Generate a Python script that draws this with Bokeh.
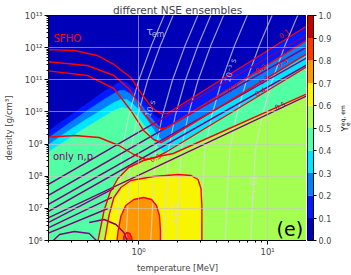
import numpy as np
from bokeh.plotting import figure
from bokeh.layouts import row
from bokeh.models import ColumnDataSource, FixedTicker, Label, Title
from bokeh.core.properties import value
from bokeh.embed import file_html
from bokeh.resources import INLINE

FONT = "DejaVu Sans"

# ---------------- axes ----------------
T_RANGE = [0.2, 20.0]
RHO_RANGE = [1e6, 1e13]
x_ticks = [1.0, 10.0]
x_tick_labels = ["10⁰", "10¹"]
x_minor_ticks = [0.2, 0.3, 0.4, 0.5, 0.6, 0.7, 0.8, 0.9, 2, 3, 4, 5, 6, 7, 8, 9, 20]
y_ticks = [1e6, 1e7, 1e8, 1e9, 1e10, 1e11, 1e12, 1e13]
y_tick_labels = ["10⁶", "10⁷", "10⁸", "10⁹", "10¹⁰", "10¹¹", "10¹²", "10¹³"]
y_minor_ticks = [m * 10.0 ** k for k in range(6, 13) for m in range(2, 10)]

# ---------------- colour levels ----------------
levels = [0.0, 0.1, 0.2, 0.3, 0.4, 0.5, 0.6, 0.7, 0.8, 0.9, 1.0]
level_labels = ["0.0", "0.1", "0.2", "0.3", "0.4", "0.5", "0.6", "0.7", "0.8", "0.9", "1.0"]
level_colors = ["#0000b9", "#001aff", "#0080ff", "#00e5ff", "#52ffa5",
                "#a5ff52", "#f7f500", "#ff9700", "#ff3800", "#c50000"]

# ------- filled regions: boundary of region Y_e >= level, in (log10 T[MeV], log10 rho[g/cm^3]) -------
base_logT = [-0.75, 1.35, 1.35, -0.75]
base_logrho = [5.5, 5.5, 13.5, 13.5]

ge01_logT = [-0.728, -0.575, -0.421, -0.268, -0.192, -0.153, -0.123, -0.092, -0.038, 0.023, 0.077, 0.123, 0.161, 0.207, 1.35, 1.35, -0.75]
ge01_logrho = [9.329, 9.765, 10.200, 10.636, 10.823, 10.916, 10.947, 10.916, 10.729, 10.449, 10.169, 9.889, 9.796, 9.889, 12.79, 5.5, 5.5]

ge02_logT = [-0.728, -0.575, -0.421, -0.268, -0.192, -0.146, -0.107, -0.069, 0.0, 0.054, 0.115, 0.169, 0.215, 1.35, 1.35, -0.75]
ge02_logrho = [9.111, 9.547, 9.983, 10.387, 10.574, 10.667, 10.667, 10.574, 10.325, 10.045, 9.734, 9.485, 9.511, 12.35, 5.5, 5.5]

ge03_logT = [-0.728, -0.575, -0.421, -0.268, -0.192, -0.138, -0.092, -0.046, 0.008, 0.069, 0.130, 0.184, 0.230, 1.35, 1.35, -0.75]
ge03_logrho = [8.894, 9.329, 9.734, 10.107, 10.294, 10.387, 10.387, 10.263, 10.045, 9.734, 9.360, 9.080, 9.161, 11.92, 5.5, 5.5]

ge04_logT = [-0.728, -0.575, -0.421, -0.268, -0.192, -0.130, -0.084, -0.038, 0.015, 0.077, 0.138, 0.199, 0.253, 1.35, 1.35, -0.75]
ge04_logrho = [8.676, 9.080, 9.485, 9.858, 10.045, 10.138, 10.107, 9.983, 9.734, 9.391, 8.956, 8.738, 8.862, 11.52, 5.5, 5.5]

ge05_logT = [-0.330, -0.307, -0.268, -0.222, -0.161, -0.077, 0.038, 0.153, 0.268, 1.35, 1.35]
ge05_logrho = [5.689, 6.156, 6.933, 7.493, 7.929, 8.271, 8.489, 8.614, 8.707, 10.646, 5.689]

ge06_logT = [-0.276, -0.253, -0.230, -0.192, -0.138, -0.061, 0.115, 0.307, 0.406, 0.460, 0.483, 0.490, 0.490]
ge06_logrho = [5.689, 6.249, 6.778, 7.338, 7.649, 7.867, 7.991, 8.054, 8.022, 7.898, 7.618, 7.089, 5.689]

ge07_logT = [-0.176, -0.161, -0.138, -0.100, -0.038, 0.038, 0.100, 0.138, 0.161, 0.169, 0.169]
ge07_logrho = [5.689, 6.249, 6.747, 7.089, 7.276, 7.338, 7.276, 7.089, 6.778, 6.311, 5.689]

ge08_logT = [-0.123, -0.115, -0.092, -0.069, -0.054, -0.046]
ge08_logrho = [5.689, 6.124, 6.249, 6.218, 6.093, 5.689]

# ------- SFHO contour lines (red) -------
sfho_01_logT = [-0.728, -0.498, -0.322, -0.192, -0.061, 0.015, 0.077, 0.130, 0.176, 0.222, 1.35]
sfho_01_logrho = [11.943, 11.912, 11.756, 11.476, 11.072, 10.605, 10.263, 10.045, 9.951, 9.951, 12.79]
sfho_02_logT = [-0.728, -0.398, -0.192, -0.077, -0.015, 0.038, 0.092, 0.146, 0.192, 0.238, 1.35]
sfho_02_logrho = [11.569, 11.445, 11.134, 10.729, 10.356, 9.983, 9.703, 9.516, 9.469, 9.555, 12.35]
sfho_03_logT = [-0.728, -0.398, -0.192, -0.061, 0.038, 0.115, 0.176, 0.238, 1.35]
sfho_03_logrho = [11.289, 11.134, 10.729, 10.045, 9.423, 9.142, 9.049, 9.198, 11.92]
sfho_04_logT = [-0.728, -0.498, -0.307, -0.153, -0.038, 0.054, 0.130, 0.207, 1.35]
sfho_04_logrho = [9.205, 9.267, 9.205, 8.956, 8.676, 8.520, 8.582, 8.738, 11.52]

# ------- only n,p contour lines (purple) -------
np_lines_logT = [[-0.728, 1.35], [-0.728, 1.35], [-0.728, 1.35], [-0.728, 1.35], [-0.728, 1.35],
                 [-0.728, -0.192], [-0.728, -0.207], [-0.728, -0.238],
                 [-0.675, -0.613, -0.498, -0.383, -0.315],
                 [-0.383, -0.268, -0.176, -0.115, -0.084]]
np_lines_logrho = [[7.680, 12.50], [7.338, 12.13], [7.058, 11.79], [6.840, 11.57], [6.653, 10.59],
                   [6.498, 7.618], [6.342, 7.338], [6.187, 6.996],
                   [5.95, 6.187, 6.280, 6.218, 5.95],
                   [6.560, 6.653, 6.498, 6.249, 5.94]]

# ------- tau_em iso-lines (light grey) -------
tau_logrho = [13.156, 12.067, 10.978, 9.889, 8.800, 5.844]
tau_lines_logT = [[0.214, 0.099, 0.0, -0.077, -0.131, -0.169],
                  [0.283, 0.168, 0.069, -0.008, -0.062, -0.100],
                  [0.475, 0.360, 0.261, 0.184, 0.130, 0.092],
                  [0.575, 0.460, 0.361, 0.284, 0.230, 0.192],
                  [0.674, 0.559, 0.460, 0.383, 0.329, 0.291],
                  [0.858, 0.743, 0.644, 0.567, 0.513, 0.475],
                  [1.050, 0.935, 0.836, 0.759, 0.705, 0.667],
                  [1.249, 1.134, 1.035, 0.958, 0.904, 0.866]]

# ------- contour labels -------
clabel_text = ["0.1", "0.2", "0.3", "0.3", "0.4", "0.5", "0.2", "0.5"]
clabel_logT = [1.126, 0.943, 1.111, 0.973, 0.943, 1.096, 0.728, 0.130]
clabel_logrho = [12.441, 11.352, 11.538, 11.009, 10.636, 10.200, 10.761, 8.582]
clabel_angle = [0.58, 0.58, 0.58, 0.58, 0.58, 0.44, 0.58, 0.42]
clabel_color = ["red", "red", "red", "purple", "red", "purple", "purple", "red"]

tau_label_text = ["10 s", "10⁻³ s", "0.1 s", "10⁻⁴ s"]
tau_label_logT = [0.092, 0.713, 0.284, 0.881]
tau_label_logrho = [10.107, 11.289, 6.840, 7.649]
tau_label_angle = [1.26, 1.30, -1.5708, -1.5708]

# colour-bar label pieces (position within the label strip, 0..1)
cb_label_text = ["Y", "e", "eq, em"]
cb_label_x = [0.60, 0.78, 0.45]
cb_label_y = [0.496, 0.517, 0.509]

TOP, BOTTOM, H = 15, 35, 275


def lin(a):
    return 10.0 ** np.asarray(a, dtype=float)


p = figure(width=306, height=H, x_axis_type="log", y_axis_type="log",
           x_range=(T_RANGE[0], T_RANGE[1]), y_range=(RHO_RANGE[0], RHO_RANGE[1]),
           output_backend="svg", toolbar_location=None,
           title="different NSE ensembles",
           min_border_left=43, min_border_right=0, min_border_top=TOP, min_border_bottom=BOTTOM)

p.title.text_font = FONT
p.title.text_font_size = "10.5px"
p.title.text_font_style = "normal"
p.title.align = "center"
p.title.standoff = 0
p.outline_line_color = "black"
p.outline_line_width = 1

# filled regions
p.patch(lin(base_logT), lin(base_logrho), fill_color=level_colors[0], line_color=None)
regions = [(ge01_logT, ge01_logrho), (ge02_logT, ge02_logrho), (ge03_logT, ge03_logrho),
           (ge04_logT, ge04_logrho), (ge05_logT, ge05_logrho), (ge06_logT, ge06_logrho),
           (ge07_logT, ge07_logrho), (ge08_logT, ge08_logrho)]
for k, (lx, ly) in enumerate(regions, start=1):
    p.patch(lin(lx), lin(ly), fill_color=level_colors[k], line_color=level_colors[k], line_width=0.5)

# tau lines
p.multi_line([lin(t) for t in tau_lines_logT], [lin(tau_logrho)] * len(tau_lines_logT),
             line_color="#dcdcdc", line_alpha=0.7, line_width=1.2)

# n,p lines
p.multi_line([lin(t) for t in np_lines_logT], [lin(r) for r in np_lines_logrho],
             line_color="purple", line_width=1.4)

# SFHO lines
sfho = [(sfho_01_logT, sfho_01_logrho), (sfho_02_logT, sfho_02_logrho),
        (sfho_03_logT, sfho_03_logrho), (sfho_04_logT, sfho_04_logrho),
        (ge05_logT[:-1], ge05_logrho[:-1]), (ge06_logT, ge06_logrho),
        (ge07_logT, ge07_logrho), (ge08_logT, ge08_logrho)]
p.multi_line([lin(a) for a, b in sfho], [lin(b) for a, b in sfho], line_color="red", line_width=1.4)

# contour labels
src = ColumnDataSource(dict(x=lin(clabel_logT), y=lin(clabel_logrho), text=clabel_text,
                            angle=clabel_angle, color=clabel_color))
p.text(x="x", y="y", text="text", angle="angle", text_color="color", source=src,
       text_font=value(FONT), text_font_size="7px", text_align="center", text_baseline="middle")

tsrc = ColumnDataSource(dict(x=lin(tau_label_logT), y=lin(tau_label_logrho), text=tau_label_text,
                             angle=tau_label_angle))
p.text(x="x", y="y", text="text", angle="angle", source=tsrc, text_color="#dcdcdc", text_alpha=0.8,
       text_font=value(FONT), text_font_size="8px", text_align="center", text_baseline="middle")

# annotations inside plot
p.add_layout(Label(x=10 ** 0.084, y=10 ** 12.50, text="τ", text_font=FONT, text_font_size="11px",
                   text_color="#dcdcdc", text_alpha=0.8, text_align="center", text_baseline="middle"))
p.add_layout(Label(x=10 ** 0.150, y=10 ** 12.40, text="em", text_font=FONT, text_font_size="8px",
                   text_color="#dcdcdc", text_alpha=0.8, text_align="center", text_baseline="middle"))
p.add_layout(Label(x=10 ** -0.66, y=10 ** 12.285, text="SFHO", text_font=FONT, text_font_size="10px",
                   text_color="red", text_align="left", text_baseline="middle"))
p.add_layout(Label(x=10 ** -0.665, y=10 ** 8.614, text="only n,p", text_font=FONT, text_font_size="10px",
                   text_color="purple", text_align="left", text_baseline="middle"))
p.add_layout(Label(x=10 ** 1.172, y=10 ** 6.373, text="(e)", text_font=FONT, text_font_size="19px",
                   text_color="black", text_align="center", text_baseline="middle"))

# axes
p.yaxis.axis_label = "density [g/cm³]"
p.xaxis.ticker = FixedTicker(ticks=x_ticks, minor_ticks=x_minor_ticks)
p.yaxis.ticker = FixedTicker(ticks=y_ticks, minor_ticks=y_minor_ticks)
p.xaxis.major_label_overrides = {t: s for t, s in zip(x_ticks, x_tick_labels)}
p.yaxis.major_label_overrides = {t: s for t, s in zip(y_ticks, y_tick_labels)}
for ax in (p.xaxis[0], p.yaxis[0]):
    ax.axis_label_text_font = FONT
    ax.axis_label_text_font_size = "8.5px"
    ax.axis_label_text_font_style = "normal"
    ax.major_label_text_font = FONT
    ax.major_label_text_font_size = "8.5px"
    ax.major_tick_in = 0
    ax.major_tick_out = 4
    ax.minor_tick_in = 0
    ax.minor_tick_out = 2
    ax.major_label_standoff = 2
    ax.axis_line_color = "black"
p.yaxis.axis_label_standoff = 8

p.add_layout(Title(text="temperature [MeV]", align="center", text_font=FONT, text_font_size="8.5px",
                   text_font_style="normal", standoff=3), "below")

p.grid.grid_line_color = "#c8c8c8"
p.grid.grid_line_alpha = 0.6
p.grid.level = "annotation"

# ---------------- colour bar as its own small plot ----------------
q = figure(width=28, height=H, x_range=(0, 1), y_range=(levels[0], levels[-1]),
           output_backend="svg", toolbar_location=None,
           x_axis_location=None, y_axis_location="right",
           min_border_left=1, min_border_right=0, min_border_top=TOP, min_border_bottom=BOTTOM)
q.quad(left=0, right=1, bottom=levels[:-1], top=levels[1:], fill_color=level_colors, line_color=None)
q.grid.grid_line_color = None
q.outline_line_color = "black"
q.yaxis.ticker = FixedTicker(ticks=levels)
q.yaxis.major_label_overrides = {t: s for t, s in zip(levels, level_labels)}
q.yaxis.major_label_text_font = FONT
q.yaxis.major_label_text_font_size = "8px"
q.yaxis.major_tick_in = 0
q.yaxis.major_tick_out = 3
q.yaxis.minor_tick_line_color = None
q.yaxis.major_label_standoff = 2
q.yaxis.axis_line_color = "black"

# ---------------- strip with the colour-bar label  Y_e^{eq, em} ----------------
r = figure(width=17, height=H, x_range=(0, 1), y_range=(0, 1), output_backend="svg",
           toolbar_location=None, min_border=0, x_axis_location=None, y_axis_location=None,
           outline_line_color=None)
r.grid.grid_line_color = None
r.text(x=[cb_label_x[0]], y=[cb_label_y[0]], text=[cb_label_text[0]], angle=np.pi / 2,
       text_font=value(FONT), text_font_size="8.5px", text_align="center", text_baseline="middle")
r.text(x=[cb_label_x[1]], y=[cb_label_y[1]], text=[cb_label_text[1]], angle=np.pi / 2,
       text_font=value(FONT), text_font_size="6px", text_align="center", text_baseline="middle")
r.text(x=[cb_label_x[2]], y=[cb_label_y[2]], text=[cb_label_text[2]], angle=np.pi / 2,
       text_font=value(FONT), text_font_size="6px", text_align="left", text_baseline="middle")

layout = row(p, q, r, spacing=0)
open("out.html", "w").write(file_html(layout, INLINE))
